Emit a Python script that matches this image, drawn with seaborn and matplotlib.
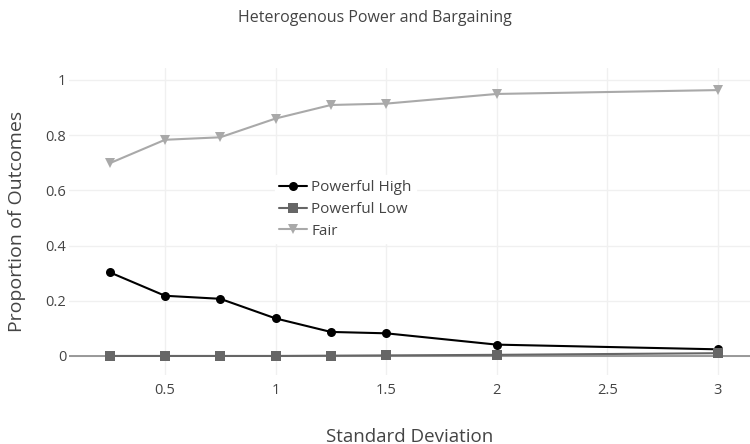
import pandas as pd
import matplotlib
matplotlib.use("Agg")
import matplotlib.pyplot as plt
import seaborn as sns

# values
std_dev = [0.25, 0.5, 0.75, 1, 1.25, 1.5, 2, 3]
powerful_high = [0.303, 0.218, 0.207, 0.136, 0.087, 0.082, 0.041, 0.024]
powerful_low = [0.0, 0.0, 0.0, 0.0, 0.001, 0.002, 0.004, 0.010]
fair = [0.698, 0.783, 0.792, 0.860, 0.909, 0.914, 0.949, 0.963]

series_names = ["Powerful High", "Powerful Low", "Fair"]
x_ticks = [0.5, 1, 1.5, 2, 2.5, 3]
x_tick_labels = ["0.5", "1", "1.5", "2", "2.5", "3"]
y_ticks = [0, 0.2, 0.4, 0.6, 0.8, 1]
y_tick_labels = ["0", "0.2", "0.4", "0.6", "0.8", "1"]

df = pd.DataFrame({
    "Standard Deviation": std_dev * 3,
    "Proportion": powerful_high + powerful_low + fair,
    "Outcome": [n for n in series_names for _ in std_dev],
})

sns.set_theme(style="white")
plt.rcParams["font.family"] = ["Open Sans", "DejaVu Sans"]

fig = plt.figure(figsize=(7.5, 4.44), dpi=100)
ax = fig.add_axes([69 / 750, 69 / 444, 681 / 750, 307 / 444])

palette = {"Powerful High": "#000000", "Powerful Low": "#666666", "Fair": "#a9a9a9"}
markers = {"Powerful High": "o", "Powerful Low": "s", "Fair": "v"}

sns.lineplot(data=df, x="Standard Deviation", y="Proportion", hue="Outcome",
             style="Outcome", markers=markers, dashes=False, palette=palette,
             hue_order=series_names, style_order=series_names,
             linewidth=1.5, markersize=6.5, markeredgewidth=0, ax=ax, zorder=3)

ax.set_xlim(0.066, 3.145)
ax.set_ylim(-0.069, 1.043)
ax.set_xticks(x_ticks)
ax.set_xticklabels(x_tick_labels)
ax.set_yticks(y_ticks)
ax.set_yticklabels(y_tick_labels)
ax.grid(True, color="#f0f0f0", linewidth=1)
ax.axhline(0, color="#888888", linewidth=1.2, zorder=2)
for s in ax.spines.values():
    s.set_visible(False)
ax.tick_params(axis="x", colors="#444444", labelsize=10.5, length=0, pad=6)
ax.tick_params(axis="y", colors="#444444", labelsize=10.5, length=0, pad=2)

ax.set_xlabel("Standard Deviation", fontsize=13.5, color="#444444", labelpad=21)
ax.set_ylabel("Proportion of Outcomes", fontsize=14, color="#444444", labelpad=14)
fig.text(0.5, 1 - 18 / 444, "Heterogenous Power and Bargaining", ha="center",
         va="center", fontsize=11.5, color="#444444")

leg = ax.legend(loc="upper left", bbox_to_anchor=(0.291, 0.675), frameon=True,
                fontsize=11, handlelength=1.8, handletextpad=0.3, labelspacing=0.45,
                borderpad=0.3, framealpha=1, fancybox=False)
leg.get_frame().set_edgecolor("white")
for t in leg.get_texts():
    t.set_color("#444444")

fig.savefig("out.png", dpi=100)
